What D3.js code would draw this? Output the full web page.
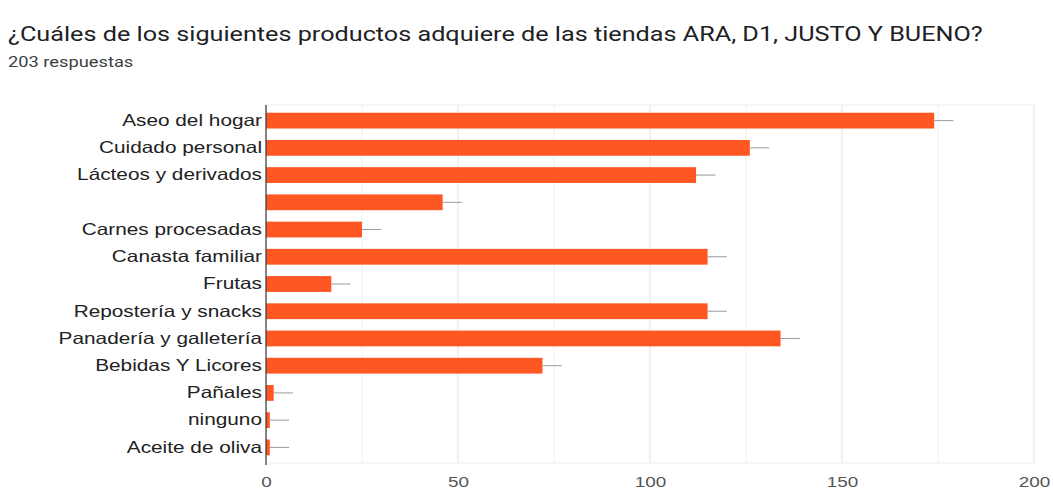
<!DOCTYPE html>
<html>
<head>
<meta charset="utf-8">
<script src="https://cdn.jsdelivr.net/npm/d3@7"></script>
<style>
  body { margin: 0; background: #fff; font-family: Roboto, "Noto Sans", sans-serif; }
  .title { font-size: 20px; fill: #202124; }
  .subtitle { font-size: 14.5px; fill: #3c4043; }
  .y-axis text { font-size: 16.5px; fill: #222; }
  .x-axis text { font-size: 15px; fill: #555; }
</style>
</head>
<body>
<div id="chart"></div>
<script>
// Data
const categories = ["Aseo del hogar", "Cuidado personal", "Lácteos y derivados", "",
    "Carnes procesadas", "Canasta familiar", "Frutas", "Repostería y snacks",
    "Panadería y galletería", "Bebidas Y Licores", "Pañales", "ninguno", "Aceite de oliva"];
const counts = [174, 126, 112, 46, 25, 115, 17, 115, 134, 72, 2, 1, 1];
const xTicks = [0, 50, 100, 150, 200];
const minorTicks = [25, 75, 125, 175];
const whisker = 5;

const height = 493,
    width = 1053,
    margin = ({ top: 105, right: 20, bottom: 30, left: 266 });

// the screenshot text is a bit wider than Roboto, so stretch it sideways
const stretch = 1.26;

const svg = d3.select("#chart")
    .append("svg")
    .attr("width", width)
    .attr("height", height);

const rows = categories.map((c, i) => ({ key: i, name: c, value: counts[i] }));

let x = d3.scaleLinear()
    .domain([0, 200])
    .range([margin.left, 1034]);

let y = d3.scaleBand()
    .domain(rows.map(d => d.key))
    .range([107, 461])
    .paddingInner(0.42)
    .paddingOuter(0.21);

// Title
svg.append("text")
    .attr("class", "title")
    .attr("x", 8)
    .attr("y", 41)
    .text("¿Cuáles de los siguientes productos adquiere de las tiendas ARA, D1, JUSTO Y BUENO?");

svg.append("text")
    .attr("class", "subtitle")
    .attr("x", 8)
    .attr("y", 67)
    .text("203 respuestas");

// Gridlines
svg.append("g")
    .selectAll("line")
    .data(minorTicks)
    .join("line")
    .attr("x1", d => x(d)).attr("x2", d => x(d))
    .attr("y1", 105).attr("y2", 463)
    .attr("stroke", "#f1f1f1");

svg.append("g")
    .selectAll("line")
    .data(xTicks.slice(1))
    .join("line")
    .attr("x1", d => x(d)).attr("x2", d => x(d))
    .attr("y1", 105).attr("y2", 463)
    .attr("stroke", "#e3e3e3");

// top and bottom frame lines
svg.append("g")
    .selectAll("line")
    .data([105, 463])
    .join("line")
    .attr("x1", x(0)).attr("x2", x(200))
    .attr("y1", d => d).attr("y2", d => d)
    .attr("stroke", "#ececec");

// Bars
svg.append("g")
    .selectAll("rect")
    .data(rows)
    .join("rect")
    .attr("x", x(0))
    .attr("y", d => y(d.key))
    .attr("width", d => x(d.value) - x(0))
    .attr("height", y.bandwidth())
    .attr("fill", "#ff5722");

// Whiskers
svg.append("g")
    .selectAll("line")
    .data(rows)
    .join("line")
    .attr("x1", d => x(d.value))
    .attr("x2", d => x(d.value + whisker))
    .attr("y1", d => y(d.key) + y.bandwidth() / 2)
    .attr("y2", d => y(d.key) + y.bandwidth() / 2)
    .attr("stroke", "#999")
    .attr("stroke-width", 1);

// Y axis
svg.append("g")
    .attr("class", "y-axis")
    .attr("transform", `translate(${x(0)},0)`)
    .call(d3.axisLeft(y).tickSize(0).tickPadding(4).tickFormat(k => categories[k]))
    .call(g => g.select(".domain").remove());

svg.append("line")
    .attr("x1", x(0)).attr("x2", x(0))
    .attr("y1", 105).attr("y2", 465)
    .attr("stroke", "#333")
    .attr("stroke-width", 1.2);

// X axis
svg.append("g")
    .attr("class", "x-axis")
    .attr("transform", `translate(0,463)`)
    .call(d3.axisBottom(x).tickValues(xTicks).tickSize(0).tickPadding(13))
    .call(g => g.select(".domain").remove());

// widen every text by the stretch factor
svg.selectAll("text").each(function() {
    const len = this.getComputedTextLength();
    if (len > 0) {
        d3.select(this)
            .attr("textLength", len * stretch)
            .attr("lengthAdjust", "spacingAndGlyphs");
    }
});
</script>
</body>
</html>
